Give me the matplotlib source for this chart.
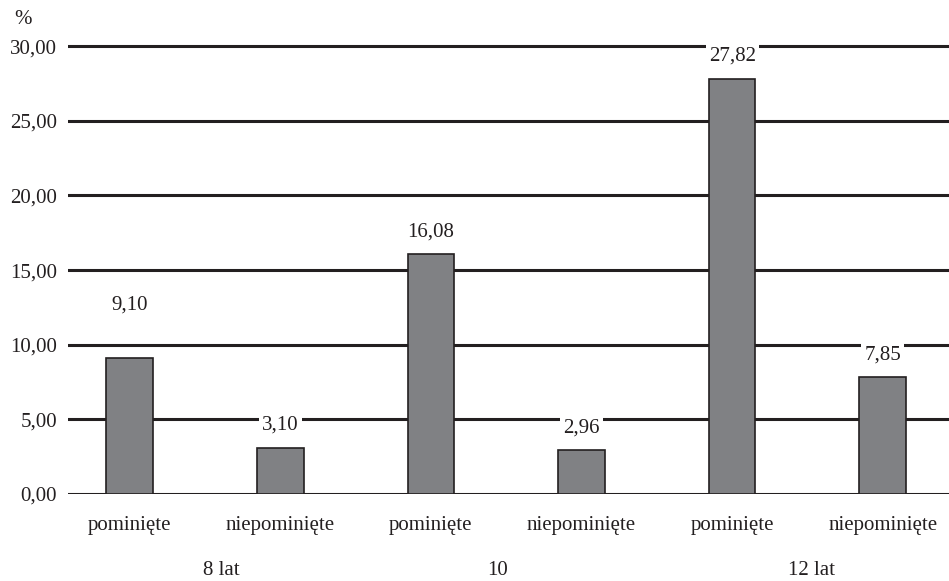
import matplotlib.pyplot as plt

categories = ["pominięte", "niepominięte", "pominięte", "niepominięte", "pominięte", "niepominięte"]
values = [9.10, 3.10, 16.08, 2.96, 27.82, 7.85]
value_labels = ["9,10", "3,10", "16,08", "2,96", "27,82", "7,85"]
groups = ["8 lat", "10", "12 lat"]
group_pos = [0.61, 2.44, 4.53]
yticks = [0, 5, 10, 15, 20, 25, 30]
ytick_labels = ["0,00", "5,00", "10,00", "15,00", "20,00", "25,00", "30,00"]


def main():
    plt.rcParams["font.family"] = ["Liberation Serif", "DejaVu Serif"]
    plt.rcParams["font.size"] = 15

    fig = plt.figure(figsize=(9.49, 5.81), dpi=100)
    ax = fig.add_axes([0.0717, 0.1497, 0.9283, 0.7787])

    x = list(range(len(values)))
    for y in yticks:
        ax.axhline(y, color="#231f20", lw=2.2, zorder=1)
    ax.bar(x, values, width=0.31, color="#808184", edgecolor="#231f20",
           linewidth=1.2, zorder=2)

    for i, (v, lab) in enumerate(zip(values, value_labels)):
        off = 38 if i == 0 else 16  # first label sits above the 10 line
        ax.annotate(lab, (i, v), xytext=(0, off), textcoords="offset points",
                    ha="center", va="center", color="#231f20", zorder=3,
                    bbox=dict(boxstyle="square,pad=0.15", fc="white", ec="none"))

    ax.set_xlim(-0.41, 5.44)
    ax.set_ylim(0, 30.3)
    ax.set_xticks(x)
    ax.set_xticklabels(categories)
    ax.set_yticks(yticks)
    ax.set_yticklabels(ytick_labels)
    ax.tick_params(length=0, colors="#231f20")
    ax.tick_params(axis="x", pad=16)
    ax.tick_params(axis="y", pad=8)
    for s in ax.spines.values():
        s.set_visible(False)

    for g, gx in zip(groups, group_pos):
        ax.text(gx, -0.17, g, transform=ax.get_xaxis_transform(),
                ha="center", va="center", color="#231f20")

    fig.text(23 / 949, 1 - 20 / 581, "%", ha="center", va="center", color="#231f20")

    fig.savefig("out.png", dpi=100)


if __name__ == "__main__":
    main()
